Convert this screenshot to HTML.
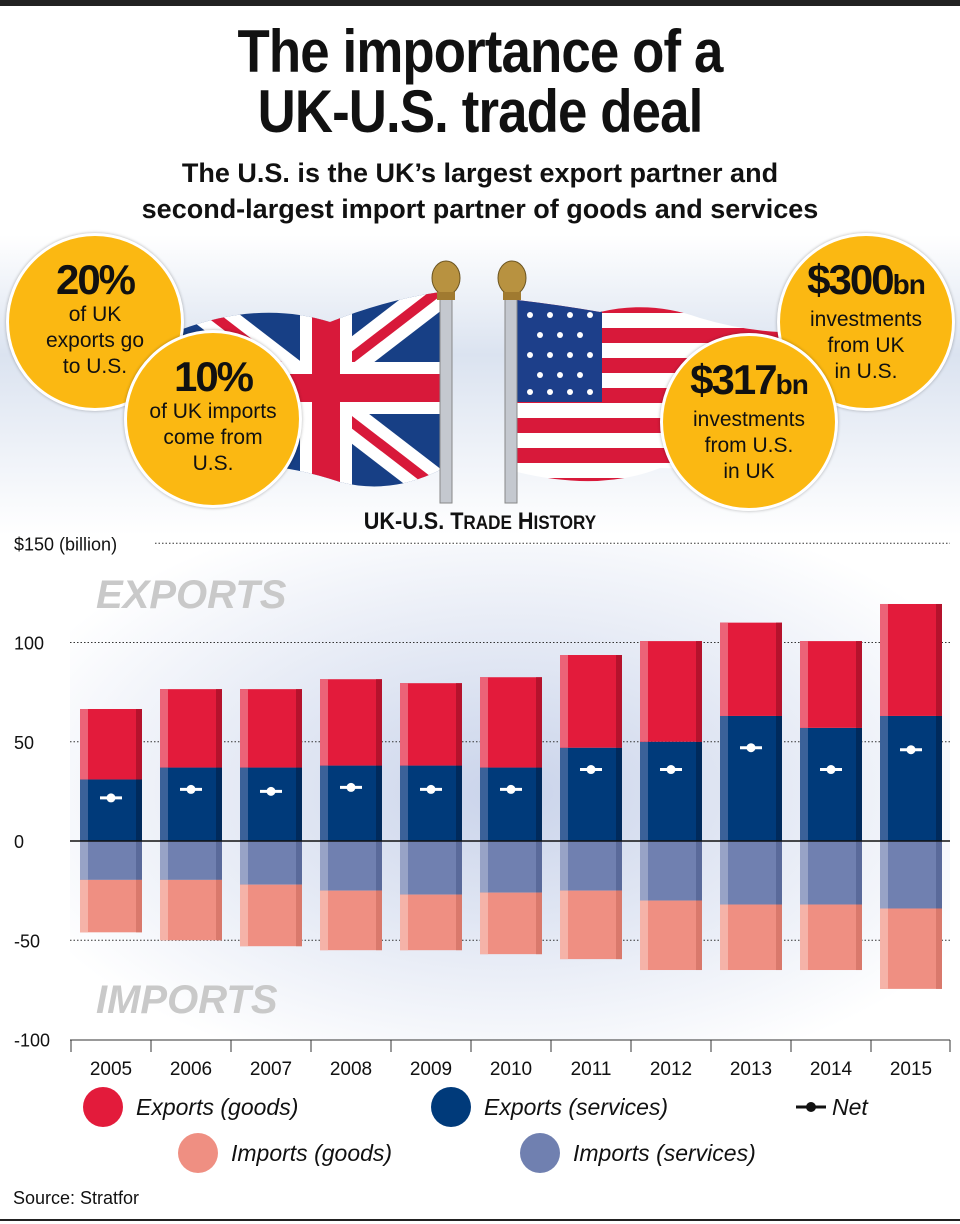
<!DOCTYPE html>
<html><head><meta charset="utf-8"><style>
body{margin:0;width:960px;height:1224px;overflow:hidden;background:#fff;font-family:"Liberation Sans",sans-serif;position:relative}
.t{position:absolute;left:0;width:960px;text-align:center}
.circ{position:absolute;width:172px;height:172px;border-radius:50%;background:#fbb812;border:3px solid #fff;box-shadow:0 0 3px rgba(0,0,0,.3);text-align:center;font-family:"Liberation Sans Narrow","Liberation Sans",sans-serif;font-size:21px;line-height:26px;color:#111}
.circ b{display:block;font-size:42px;line-height:44px;margin-top:22px;font-weight:bold;letter-spacing:-2px}
.circ b small{font-size:28px;letter-spacing:-1px}
</style></head><body>
<div style="position:absolute;left:0;top:0;width:960px;height:6px;background:#222"></div>
<div class="t" style="top:22px;font-weight:bold;font-size:60px;line-height:60px;color:#111;transform:scaleX(0.88);letter-spacing:-1px">The importance of a<br>UK-U.S. trade deal</div>
<div class="t" style="top:155px;font-weight:bold;font-size:27px;line-height:36px;color:#111">The U.S. is the UK’s largest export partner and<br>second-largest import partner of goods and services</div>
<div style="position:absolute;left:0;top:235px;width:960px;height:300px;background:linear-gradient(#fff,#dbe3f0 40%,#fff)"></div>
<svg style="position:absolute;left:0;top:0" width="960" height="540">
<defs>
<clipPath id="ukc"><path d="M180 330 Q260 300 330 322 Q385 300 440 292 L440 470 Q390 495 340 482 Q260 455 190 470 Z"/></clipPath>
<clipPath id="usc"><path d="M517 300 Q560 305 600 312 Q650 300 700 318 Q740 330 780 332 L780 460 Q720 470 660 468 Q600 492 517 472 Z"/></clipPath>
</defs>
<g clip-path="url(#ukc)">
<rect x="170" y="280" width="280" height="220" fill="#173f85"/>
<g stroke="#fff" stroke-width="34"><line x1="180" y1="290" x2="440" y2="490"/><line x1="180" y1="490" x2="440" y2="290"/></g>
<g stroke="#d8193a" stroke-width="10"><line x1="180" y1="290" x2="440" y2="490"/><line x1="180" y1="490" x2="440" y2="290"/></g>
<rect x="170" y="362" width="280" height="52" fill="#fff"/><rect x="300" y="280" width="52" height="220" fill="#fff"/>
<rect x="170" y="374" width="280" height="28" fill="#d8193a"/><rect x="312" y="280" width="28" height="220" fill="#d8193a"/>
</g>
<g clip-path="url(#usc)">
<rect x="510" y="290" width="280" height="210" fill="#fff"/>
<g fill="#d8193a"><rect x="510" y="298" width="280" height="15"/><rect x="510" y="328" width="280" height="15"/><rect x="510" y="358" width="280" height="15"/><rect x="510" y="388" width="280" height="15"/><rect x="510" y="418" width="280" height="15"/><rect x="510" y="448" width="280" height="15"/><rect x="510" y="478" width="280" height="15"/></g>
<rect x="510" y="290" width="92" height="112" fill="#1d3f8a"/>
<g fill="#fff"><circle cx="530" cy="315" r="3"/><circle cx="550" cy="315" r="3"/><circle cx="570" cy="315" r="3"/><circle cx="590" cy="315" r="3"/><circle cx="540" cy="335" r="3"/><circle cx="560" cy="335" r="3"/><circle cx="580" cy="335" r="3"/><circle cx="530" cy="355" r="3"/><circle cx="550" cy="355" r="3"/><circle cx="570" cy="355" r="3"/><circle cx="590" cy="355" r="3"/><circle cx="540" cy="375" r="3"/><circle cx="560" cy="375" r="3"/><circle cx="580" cy="375" r="3"/><circle cx="530" cy="392" r="3"/><circle cx="550" cy="392" r="3"/><circle cx="570" cy="392" r="3"/><circle cx="590" cy="392" r="3"/></g>
</g>
<rect x="440" y="295" width="12" height="208" fill="#c4c8cf" stroke="#888" stroke-width="1"/>
<ellipse cx="446" cy="278" rx="14" ry="17" fill="#b89240" stroke="#6b5420"/><rect x="437" y="292" width="18" height="8" fill="#a07a30"/>
<rect x="505" y="295" width="12" height="208" fill="#c4c8cf" stroke="#888" stroke-width="1"/>
<ellipse cx="512" cy="278" rx="14" ry="17" fill="#b89240" stroke="#6b5420"/><rect x="503" y="292" width="18" height="8" fill="#a07a30"/>
</svg>
<div class="circ" style="left:6px;top:233px"><b>20%</b>of UK<br>exports go<br>to U.S.</div>
<div class="circ" style="left:124px;top:330px"><b>10%</b>of UK imports<br>come from<br>U.S.</div>
<div class="circ" style="left:777px;top:233px"><b>$300<small>bn</small></b>investments<br>from UK<br>in U.S.</div>
<div class="circ" style="left:660px;top:333px"><b>$317<small>bn</small></b>investments<br>from U.S.<br>in UK</div>
<div class="t" style="top:508px;font-weight:bold;font-size:24px;color:#111;transform:scaleX(0.9)">UK-U.S. T<span style="font-size:19px">RADE</span> H<span style="font-size:19px">ISTORY</span></div>
<svg id="chart" style="position:absolute;left:0;top:0" width="960" height="1224">
<defs><radialGradient id="bg" cx="0.5" cy="0.5" r="0.6"><stop offset="0" stop-color="#c9d3ea"/><stop offset="1" stop-color="#fff"/></radialGradient></defs>
<rect x="70" y="545" width="880" height="495" fill="url(#bg)"/>
</svg>
<script>
const years=["2005","2006","2007","2008","2009","2010","2011","2012","2013","2014","2015"];
const exportsServices=[31,37,37,38,38,37,47,50,63,57,63];
const exportsGoods=[35.5,39.5,39.5,43.5,41.5,45.5,46.7,50.7,47,43.7,56.4];
const importsServices=[19.6,19.6,22,25,27,26,25,30,32,32,34];
const importsGoods=[26.4,30.4,31,30,28,31,34.5,35,33,33,40.5];
const net=[21.7,26,25,27,26,26,36,36,47,36,46];
const yTicks=[150,100,50,0,-50,-100];
const svg=document.getElementById('chart');const NS='http://www.w3.org/2000/svg';
const y=v=>841-v*1.985;const xc=i=>111+i*80;
function mk(t,a,p){const e=document.createElementNS(NS,t);for(const k in a)e.setAttribute(k,a[k]);(p||svg).appendChild(e);return e;}
yTicks.forEach(v=>{
 const tl=mk('text',{x:14,y:y(v)+7,'font-size':18,fill:'#111'});tl.textContent=v===150?'$150 (billion)':String(v);
 
 
 if(v!==0&&v!==-100){const g=mk('line',{x1:v===150?155:70,x2:950,y1:y(v),y2:y(v),stroke:'#333','stroke-dasharray':'1.5 2'});
 
 }
});
const wm=[['EXPORTS',595],['IMPORTS',1000]];
wm.forEach(w=>{const t=mk('text',{x:96,y:w[1]+13,'font-size':40,'font-weight':'bold','font-style':'italic',fill:'#c9c9c9'});t.textContent=w[0];
 
 });
function bar(i,v0,v1,c,cl,cd,name){const x=xc(i)-31,t=Math.min(y(v0),y(v1)),h=Math.abs(y(v0)-y(v1));
 const g=mk('g',{});
 mk('rect',{x:x,y:t,width:62,height:h,fill:c},g);mk('rect',{x:x,y:t,width:8,height:h,fill:cl},g);mk('rect',{x:x+56,y:t,width:6,height:h,fill:cd},g);}
years.forEach((yr,i)=>{
 bar(i,0,exportsServices[i],'#003a7a','#3b6199','#002a5c','bar-exports-services-'+yr);
 bar(i,exportsServices[i],exportsServices[i]+exportsGoods[i],'#e31b3b','#ec6378','#b5122c','bar-exports-goods-'+yr);
 bar(i,0,-importsServices[i],'#7080b0','#98a3c6','#5a6a9a','bar-imports-services-'+yr);
 bar(i,-importsServices[i],-importsServices[i]-importsGoods[i],'#ef8f82','#f5b3a8','#d9796c','bar-imports-goods-'+yr);
 const n=mk('g',{});
 mk('line',{x1:xc(i)-11,x2:xc(i)+11,y1:y(net[i]),y2:y(net[i]),stroke:'#fff','stroke-width':3},n);
 mk('circle',{cx:xc(i),cy:y(net[i]),r:4.5,fill:'#fff'},n);
 const yl=mk('text',{x:xc(i),y:1075,'text-anchor':'middle','font-size':19,fill:'#111'});yl.textContent=yr;
 
 
 mk('line',{x1:xc(i)-40,x2:xc(i)-40,y1:1040,y2:1052,stroke:'#333'});
});
mk('line',{x1:950,x2:950,y1:1040,y2:1052,stroke:'#333'});
mk('line',{x1:70,x2:950,y1:y(0),y2:y(0),stroke:'#111','stroke-width':1.5});
mk('line',{x1:70,x2:950,y1:1040,y2:1040,stroke:'#333'});
const leg=[['Exports (goods)',103,1107,'#e31b3b'],['Exports (services)',451,1107,'#003a7a'],['Imports (goods)',198,1153,'#ef8f82'],['Imports (services)',540,1153,'#7080b0']];
leg.forEach(l=>{const g=mk('g',{});
 mk('circle',{cx:l[1],cy:l[2],r:20,fill:l[3]},g);const t=mk('text',{x:l[1]+33,y:l[2]+8,'font-size':23,'font-style':'italic',fill:'#111'},g);t.textContent=l[0];});
const ng=mk('g',{});
mk('line',{x1:796,x2:826,y1:1107,y2:1107,stroke:'#111','stroke-width':3},ng);mk('circle',{cx:811,cy:1107,r:5,fill:'#111'},ng);
const nt=mk('text',{x:832,y:1115,'font-size':23,'font-style':'italic',fill:'#111'},ng);nt.textContent='Net';
const s=mk('text',{x:13,y:1204,'font-size':18,fill:'#111'});s.textContent='Source: Stratfor';


mk('line',{x1:0,x2:960,y1:1220,y2:1220,stroke:'#222','stroke-width':2});
</script>
</body></html>
